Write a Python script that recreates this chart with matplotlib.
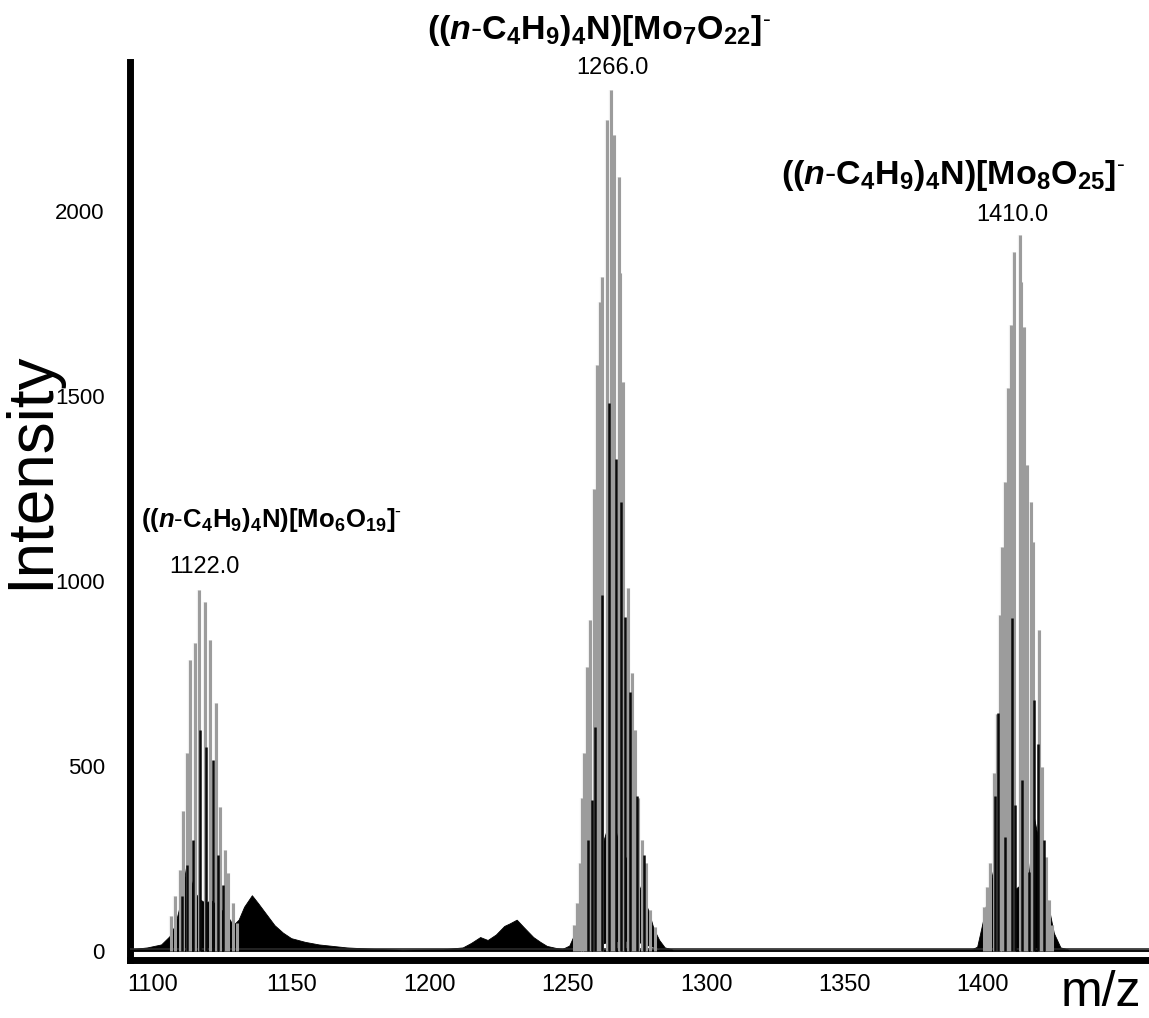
import matplotlib
matplotlib.use('Agg')
import matplotlib.pyplot as plt
import numpy as np

plt.rcParams['font.family'] = ['Liberation Sans', 'DejaVu Sans']
plt.rcParams['mathtext.fontset'] = 'custom'
plt.rcParams['mathtext.rm'] = 'Liberation Sans'
plt.rcParams['mathtext.it'] = 'Liberation Sans:italic'
plt.rcParams['mathtext.bf'] = 'Liberation Sans:bold'
plt.rcParams['mathtext.bfit'] = 'Liberation Sans:bold:italic'

# isotope sticks (light grey, tall) per cluster
gray_mz_1 = [1106.5, 1108.0, 1109.8, 1111.0, 1112.4, 1113.4, 1115.2, 1116.6, 1118.8,
             1120.6, 1122.8, 1124.2, 1126.0, 1127.2, 1128.8, 1130.5]
gray_int_1 = [95, 150, 220, 380, 535, 786, 832, 975, 943, 840, 670, 390, 273, 210, 130, 75]

gray_mz_2 = [1252.2, 1253.2, 1254.2, 1255.0, 1256.0, 1256.8, 1258.0, 1259.4, 1260.7,
             1261.7, 1262.5, 1264.1, 1265.6, 1266.7, 1268.3, 1268.9, 1269.9, 1271.9,
             1273.1, 1274.3, 1275.5, 1276.7, 1278.3, 1279.7, 1281.6]
gray_int_2 = [70, 130, 238, 414, 535, 768, 895, 1250, 1584, 1754, 1822, 2246, 2327,
              2205, 2092, 1832, 1538, 981, 751, 597, 414, 300, 238, 111, 65]

gray_mz_3 = [1400.2, 1401.5, 1402.7, 1403.9, 1405.0, 1406.3, 1406.9, 1407.9, 1409.0,
             1410.0, 1411.1, 1413.3, 1413.9, 1414.8, 1416.0, 1417.2, 1418.2, 1420.2,
             1421.4, 1422.6, 1423.8, 1425.0]
gray_int_3 = [120, 173, 238, 481, 640, 908, 1092, 1268, 1522, 1692, 1889, 1935, 1808,
              1686, 1314, 1214, 1105, 868, 497, 254, 138, 70]

# darker sticks between the grey ones
black_mz = [1110.4, 1112.2, 1114.6, 1117.0, 1119.4, 1121.6, 1123.5, 1125.2,
            1257.4, 1258.6, 1259.9, 1262.3, 1264.7, 1267.4, 1269.3, 1270.6, 1272.5,
            1274.9, 1277.4,
            1404.5, 1405.5, 1408.0, 1410.4, 1411.7, 1414.1, 1416.8, 1418.4, 1420.0,
            1422.0]
black_int = [150, 232, 300, 597, 551, 516, 260, 180,
             300, 408, 605, 962, 1481, 1330, 1214, 903, 700,
             420, 260,
             420, 643, 308, 900, 395, 462, 214, 678, 560,
             300]

# unresolved background envelope
env_mz = [1092, 1098, 1103, 1106, 1108, 1110, 1112, 1113.5, 1115, 1117, 1119, 1121, 1123,
          1125, 1127, 1129, 1131, 1133, 1135.8, 1138, 1141, 1144, 1147, 1150, 1155, 1160,
          1170, 1180, 1190, 1205, 1212, 1215, 1218.3, 1221, 1224, 1227, 1229, 1231.5, 1234,
          1237.5, 1240, 1242.4, 1246, 1248, 1250.5, 1252, 1254, 1256, 1258, 1260, 1261,
          1264, 1266.5, 1268, 1270, 1272, 1273.5, 1275, 1277, 1279, 1281, 1283, 1285, 1288,
          1300, 1350, 1396, 1397.9, 1400.3, 1402, 1403.9, 1406.3, 1408, 1409.5, 1412,
          1414.5, 1416.5, 1418.4, 1420.8, 1423.2, 1425.6, 1428, 1431, 1460]
env_int = [5, 10, 18, 40, 70, 130, 227, 200, 160, 140, 130, 138, 125,
           110, 95, 70, 85, 120, 151, 130, 100, 70, 50, 35, 25, 18,
           10, 6, 4, 5, 10, 22, 38, 30, 45, 68, 75, 85, 65,
           38, 25, 14, 8, 6, 15, 40, 65, 90, 119, 200, 254,
           327, 354, 300, 238, 265, 240, 192, 150, 111, 60, 30, 10, 4,
           4, 4, 5, 12, 92, 160, 227, 319, 200, 138, 170,
           184, 200, 362, 273, 138, 49, 10, 4, 4]

# white hollow under the middle cluster
hollow_mz = [1256, 1260, 1264, 1268, 1272, 1276, 1280, 1283]
hollow_int = [6, 16, 22, 26, 27, 22, 12, 6]

peak_pos = [1118.8, 1266.0, 1410.7]
peak_labels = ['1122.0', '1266.0', '1410.0']
formulas = [r'$\mathbf{((}\mathbfit{n}\text{-}\mathbf{C_4H_9)_4N)[Mo_6O_{19}]}^{\text{-}}$',
            r'$\mathbf{((}\mathbfit{n}\text{-}\mathbf{C_4H_9)_4N)[Mo_7O_{22}]}^{\text{-}}$',
            r'$\mathbf{((}\mathbfit{n}\text{-}\mathbf{C_4H_9)_4N)[Mo_8O_{25}]}^{\text{-}}$']
formula_size = [18.5, 24.5, 24.5]
formula_pos = [(1143.0, 1165), (1261.3, 2489), (1389.0, 2097)]
number_y = [1038, 2386, 1989]

baseline = 6

fig = plt.figure(figsize=(11.49, 10.18), dpi=100)
ax = fig.add_axes([0.113, 0.057, 0.887, 0.882])

for mz, inten in [(gray_mz_1, gray_int_1), (gray_mz_2, gray_int_2), (gray_mz_3, gray_int_3)]:
    ax.vlines(mz, 0, inten, color='#f2f2f2', lw=3.2, zorder=2)
ax.fill_between(env_mz, 0, env_int, color='black', lw=0.6, zorder=3)
ax.fill_between(hollow_mz, baseline, hollow_int, color='white', lw=0, zorder=3.5)
ax.axhline(baseline, color='#2a2a2a', lw=1.2, zorder=3.6)
for mz, inten in [(gray_mz_1, gray_int_1), (gray_mz_2, gray_int_2), (gray_mz_3, gray_int_3)]:
    ax.vlines(mz, 0, inten, color='#9c9c9c', lw=2.2, zorder=4)
ax.vlines(black_mz, 0, black_int, color='#0a0a0a', lw=1.8, zorder=5)

for f, fs, (fx, fy), px, lab, ny in zip(formulas, formula_size, formula_pos, peak_pos,
                                         peak_labels, number_y):
    ax.text(fx, fy, f, fontsize=fs, ha='center', va='center', clip_on=False)
    ax.text(px, ny, lab, fontsize=17, ha='center', va='center', clip_on=False)

ax.set_xlim(1091.7, 1460)
ax.set_ylim(-24, 2403)
ax.set_xticks([1100, 1150, 1200, 1250, 1300, 1350, 1400])
ax.set_yticks([0, 500, 1000, 1500, 2000])
ax.tick_params(length=0, labelsize=17, pad=10)
ax.tick_params(axis='y', labelsize=16, pad=18)
for s in ['top', 'right']:
    ax.spines[s].set_visible(False)
for s in ['left', 'bottom']:
    ax.spines[s].set_linewidth(5)

fig.text(0.027, 0.538, 'Intensity', rotation=90, fontsize=46, ha='center', va='center')
fig.text(0.958, 0.025, 'm/z', fontsize=36, ha='center', va='center')

fig.savefig('out.png', dpi=100)
